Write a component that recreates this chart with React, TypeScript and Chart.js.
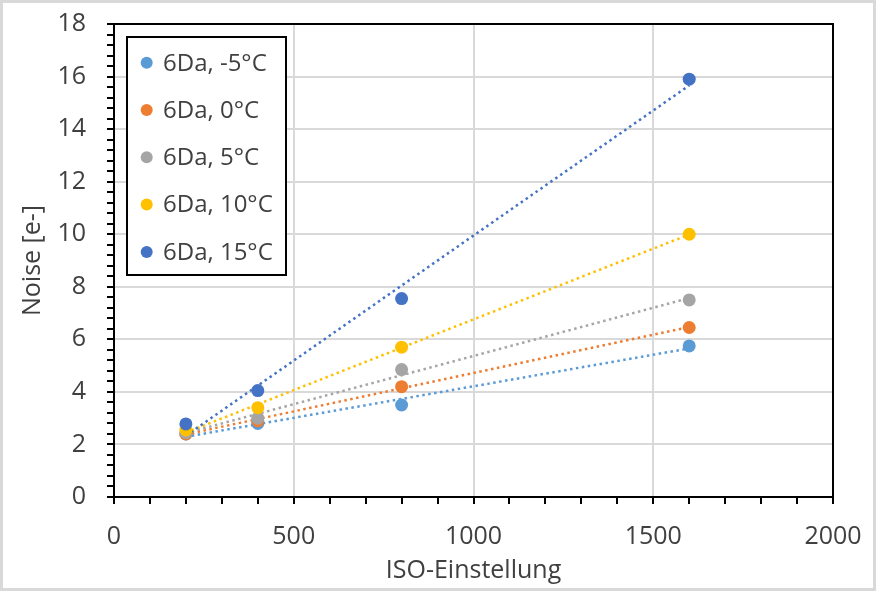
import React, { useEffect, useRef } from "react";
import { Chart, registerables } from "chart.js";

Chart.register(...registerables);

// ---- data ----
const isoValues = [200, 400, 800, 1600];
const seriesLabels = ["6Da, -5°C", "6Da, 0°C", "6Da, 5°C", "6Da, 10°C", "6Da, 15°C"];
const noiseMinus5 = [2.4, 2.8, 3.5, 5.75];
const noise0 = [2.4, 2.9, 4.2, 6.45];
const noise5 = [2.45, 3.0, 4.85, 7.5];
const noise10 = [2.55, 3.4, 5.7, 10.0];
const noise15 = [2.78, 4.05, 7.55, 15.9];
const seriesColors = ["#5b9bd5", "#ed7d31", "#a5a5a5", "#ffc000", "#4472c4"];
const xAxisTitle = "ISO-Einstellung";
const yAxisTitle = "Noise [e-]";

const allSeries = [noiseMinus5, noise0, noise5, noise10, noise15];

const FONT = "'Open Sans', 'Noto Sans', sans-serif";
const TEXT = "#404040";
const FS = 25;

function linearFit(xs: number[], ys: number[]) {
  const n = xs.length;
  const mx = xs.reduce((a, b) => a + b, 0) / n;
  const my = ys.reduce((a, b) => a + b, 0) / n;
  let sxy = 0, sxx = 0;
  for (let i = 0; i < n; i++) {
    sxy += (xs[i] - mx) * (ys[i] - my);
    sxx += (xs[i] - mx) * (xs[i] - mx);
  }
  const slope = sxy / sxx;
  return { slope, intercept: my - slope * mx };
}

const isMultiple = (v: number, m: number) => Math.abs(v / m - Math.round(v / m)) < 1e-6;

const framePlugin = {
  id: "frameAndLegend",
  afterDraw(chart: any) {
    const { ctx, chartArea } = chart;
    ctx.save();
    ctx.strokeStyle = "#000";
    ctx.lineWidth = 2;
    ctx.strokeRect(chartArea.left, chartArea.top, chartArea.right - chartArea.left, chartArea.bottom - chartArea.top);

    // legend
    const bx = chartArea.left + 13;
    const by = chartArea.top + 13;
    const bw = 159;
    const bh = 238;
    ctx.fillStyle = "#fff";
    ctx.fillRect(bx, by, bw, bh);
    ctx.strokeRect(bx, by, bw, bh);
    ctx.font = `${FS - 1}px ${FONT}`;
    ctx.textBaseline = "middle";
    ctx.textAlign = "left";
    seriesLabels.forEach((label, i) => {
      const y = by + 25.7 + i * 47.3;
      ctx.beginPath();
      ctx.fillStyle = seriesColors[i];
      ctx.arc(bx + 19.7, y, 6, 0, Math.PI * 2);
      ctx.fill();
      ctx.fillStyle = TEXT;
      ctx.fillText(label, bx + 36, y + 1);
    });
    ctx.restore();
  },
};

export default function App() {
  const canvasRef = useRef<HTMLCanvasElement | null>(null);

  useEffect(() => {
    document.body.style.margin = "0";
    const canvas = canvasRef.current;
    if (!canvas) return;

    const pointSets = allSeries.map((vals, i) => ({
      label: seriesLabels[i],
      data: isoValues.map((x, j) => ({ x, y: vals[j] })),
      showLine: false,
      pointRadius: 6.5,
      pointHoverRadius: 6.5,
      pointBackgroundColor: seriesColors[i],
      pointBorderWidth: 0,
      backgroundColor: seriesColors[i],
      borderColor: seriesColors[i],
      order: allSeries.length - 1 - i,
    }));

    const trendSets = allSeries.map((vals, i) => {
      const { slope, intercept } = linearFit(isoValues, vals);
      const x0 = isoValues[0];
      const x1 = isoValues[isoValues.length - 1];
      return {
        label: seriesLabels[i] + " trend",
        data: [
          { x: x0, y: intercept + slope * x0 },
          { x: x1, y: intercept + slope * x1 },
        ],
        showLine: true,
        pointRadius: 0,
        borderColor: seriesColors[i],
        borderWidth: 2.5,
        borderDash: [2.5, 3.5],
        fill: false,
        order: 20 - i,
      };
    });

    const chart = new Chart(canvas, {
      type: "scatter",
      data: { datasets: [...trendSets, ...pointSets] as any },
      options: {
        animation: false,
        responsive: false,
        maintainAspectRatio: false,
        layout: { padding: { top: 21, right: 40, left: 0, bottom: 0 } },
        plugins: { legend: { display: false }, tooltip: { enabled: false } },
        scales: {
          x: {
            type: "linear",
            min: 0,
            max: 2000,
            afterFit: (s: any) => {
              s.height = 91;
              s.paddingLeft = 0;
              s.paddingRight = 0;
              s.paddingTop = 0;
              s.paddingBottom = 0;
            },
            ticks: {
              stepSize: 100,
              autoSkip: false,
              maxRotation: 0,
              padding: 18,
              color: TEXT,
              font: { family: FONT, size: FS },
              callback: (v: any) => (isMultiple(Number(v), 500) ? String(Math.round(Number(v))) : ""),
            },
            grid: {
              color: (c: any) => (c.tick && isMultiple(c.tick.value, 500) ? "#d9d9d9" : "rgba(0,0,0,0)"),
              lineWidth: 2,
              tickColor: "#000",
              tickLength: 7,
              tickWidth: 2,
            },
            border: { display: false },
            title: {
              display: true,
              text: xAxisTitle,
              color: TEXT,
              font: { family: FONT, size: FS },
              padding: { top: 0, bottom: 2 },
            },
          },
          y: {
            type: "linear",
            min: 0,
            max: 18,
            afterFit: (s: any) => {
              s.width = 111;
              s.paddingTop = 0;
              s.paddingBottom = 0;
              s.paddingLeft = 0;
              s.paddingRight = 0;
            },
            ticks: {
              stepSize: 0.4,
              autoSkip: false,
              padding: 21,
              color: TEXT,
              font: { family: FONT, size: FS },
              callback: (v: any) => (isMultiple(Number(v), 2) ? String(Math.round(Number(v))) : ""),
            },
            grid: {
              color: (c: any) => (c.tick && isMultiple(c.tick.value, 2) ? "#d9d9d9" : "rgba(0,0,0,0)"),
              lineWidth: 2,
              tickColor: "#000",
              tickLength: 7,
              tickWidth: 2,
            },
            border: { display: false },
            title: {
              display: true,
              text: yAxisTitle,
              color: TEXT,
              font: { family: FONT, size: FS },
              padding: { top: 15, bottom: 0 },
            },
          },
        },
      },
      plugins: [framePlugin],
    });

    return () => chart.destroy();
  }, []);

  return (
    <div
      style={{
        width: 876,
        height: 591,
        boxSizing: "border-box",
        border: "3px solid #d9d9d9",
        background: "#fff",
        position: "relative",
      }}
    >
      <canvas ref={canvasRef} width={870} height={585} style={{ display: "block", width: 870, height: 585 }} />
    </div>
  );
}
